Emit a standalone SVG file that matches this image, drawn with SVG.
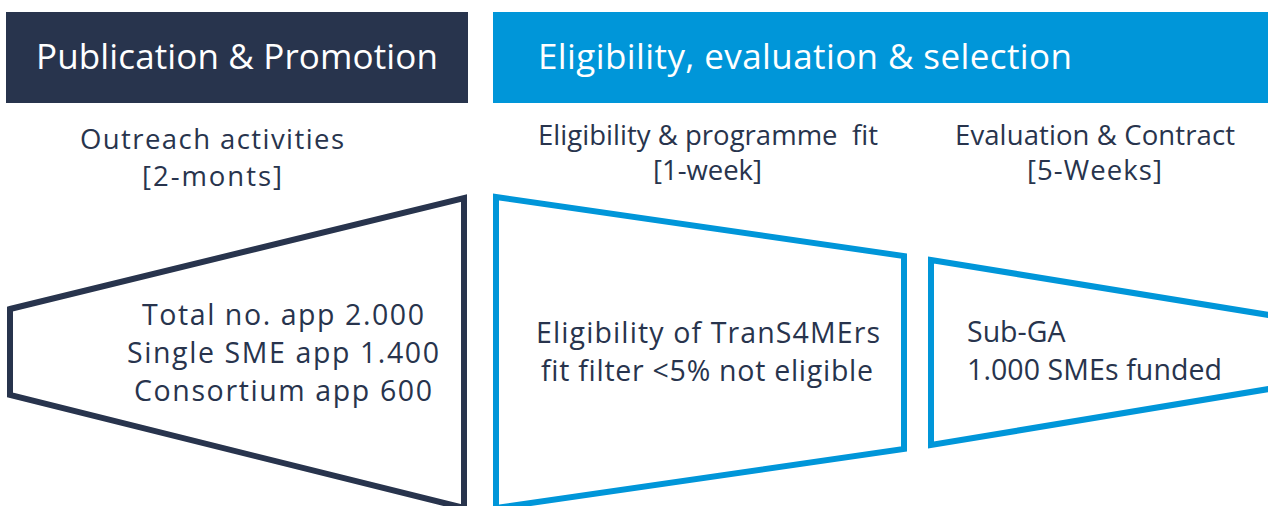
<svg xmlns="http://www.w3.org/2000/svg" width="1268" height="506" viewBox="0 0 1268 506">
<style>
text{font-family:"Open Sans","Noto Sans",sans-serif;fill:#28344d;font-variant-ligatures:none}
.hd{font-size:35px;fill:#ffffff}
.sub{font-size:27.5px}
.nt{font-size:28.5px}
.pre{white-space:pre}
.dark{fill:none;stroke:#28344d;stroke-width:6}
.blue{fill:none;stroke:#0096d9;stroke-width:6}
</style>
<rect width="1268" height="506" fill="#ffffff"/>
<g id="header-publication">
<rect x="6" y="12" width="462" height="91" fill="#28344d"/>
<text class="hd" x="36" y="69" textLength="402">Publication &amp; Promotion</text>
</g>
<g id="header-eligibility">
<rect x="493" y="12" width="775" height="91" fill="#0096d9"/>
<text class="hd" x="538" y="69" textLength="534">Eligibility, evaluation &amp; selection</text>
</g>
<g id="label-outreach">
<text class="sub" x="80" y="149" textLength="264">Outreach activities</text>
<text class="sub" x="142" y="186" textLength="140">[2-monts]</text>
</g>
<g id="label-fit">
<text class="sub pre" x="538" y="145" textLength="340" xml:space="preserve">Eligibility &amp; programme  fit</text>
<text class="sub" x="653" y="180" textLength="109">[1-week]</text>
</g>
<g id="label-evaluation">
<text class="sub" x="955" y="145" textLength="280">Evaluation &amp; Contract</text>
<text class="sub" x="1027" y="180" textLength="135">[5-Weeks]</text>
</g>
<g id="node-outreach">
<polygon class="dark" points="10,309 464,198 464,508 10,395"/>
<text class="nt" x="142" y="325" textLength="282">Total no. app 2.000</text>
<text class="nt" x="127" y="363" textLength="312">Single SME app 1.400</text>
<text class="nt" x="134" y="401" textLength="298">Consortium app 600</text>
</g>
<g id="node-fit">
<polygon class="blue" points="496,197 904,256 904,449 496,508"/>
<text class="nt" x="536" y="343" textLength="344">Eligibility of TranS4MErs</text>
<text class="nt" x="541" y="381" textLength="332">fit filter &lt;5% not eligible</text>
</g>
<g id="node-contract">
<polygon class="blue" points="931,260 1275,316 1275,388 931,445"/>
<text class="nt" x="967" y="342">Sub-GA</text>
<text class="nt" x="967" y="380" textLength="255">1.000 SMEs funded</text>
</g>
<g id="connectors"/>
</svg>
